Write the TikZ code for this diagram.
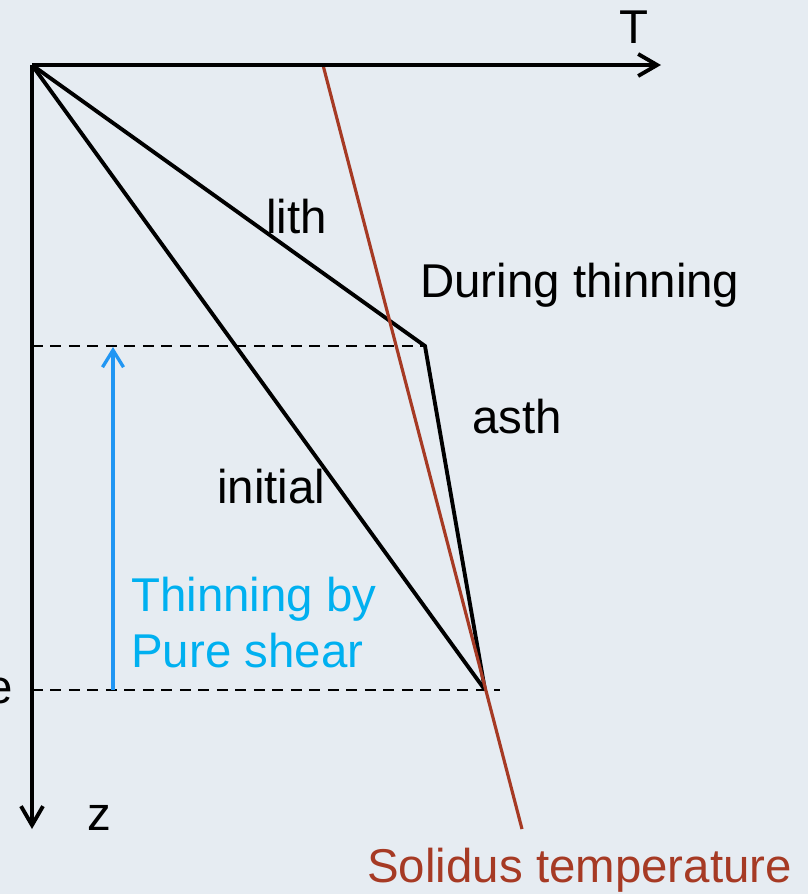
\documentclass[tikz,border=0pt]{standalone}
\usepackage{fontspec}
\setmainfont{Liberation Sans}
\usetikzlibrary{arrows.meta}
\definecolor{slidebg}{RGB}{230,236,242}
\definecolor{solidred}{RGB}{166,58,36}
\definecolor{shearblue}{RGB}{0,176,240}
\definecolor{arrowblue}{RGB}{33,150,243}

\begin{document}
\begin{tikzpicture}[x=0.02cm, y=-0.02cm,
  lbl/.style={anchor=base west, inner sep=0pt, font=\fontsize{27}{32}\selectfont},
  axis/.style={line width=2.2pt, -{Straight Barb[length=0.38cm, width=0.44cm, line width=2.2pt]}},
  geotherm/.style={line width=2.2pt, line join=miter},
  level/.style={line width=1.6pt, dash pattern=on 0.22cm off 0.15cm}]
  % page and background
  \fill[slidebg] (0,0) rectangle (808,894);
  \useasboundingbox (0,0) rectangle (808,894);
  % points
  \coordinate (O) at (32,65);
  \coordinate (Tend) at (661,65);
  \coordinate (zend) at (32,829);
  \coordinate (kink) at (425,346);
  \coordinate (base) at (485,690);
  \coordinate (kinkL) at (32,346);
  \coordinate (baseL) at (32,690);
  \coordinate (baseR) at (500,690);
  \coordinate (solTop) at (323,65);
  \coordinate (solBot) at (522,829);
  \coordinate (shearFoot) at (113,690);
  \coordinate (shearHead) at (113,347);
  % levels
  \draw[level] (kinkL) -- (kink);
  \draw[level] (baseL) -- (baseR);
  % geotherms
  \draw[geotherm] (O) -- (kink) -- (base);
  \draw[geotherm] (O) -- (base);
  % solidus
  \draw[solidred, line width=1.8pt] (solTop) -- (solBot);
  % axes
  \draw[axis] (O) -- (Tend);
  \draw[axis] (O) -- (zend);
  % thinning arrow
  \draw[arrowblue, line width=1.9pt, -{Straight Barb[length=0.34cm, width=0.42cm, line width=1.9pt]}] (shearFoot) -- (shearHead);
  % labels
  \node[lbl] (Tlbl) at (619,43) {T};
  \node[lbl] (zlbl) at (87,830) {z};
  \node[lbl] (lith) at (266,233) {lith};
  \node[lbl] (during) at (420,297) {During thinning};
  \node[lbl] (asth) at (472,433) {asth};
  \node[lbl] (initial) at (217,503) {initial};
  \node[lbl, text=shearblue] (shear1) at (131,611) {Thinning by};
  \node[lbl, text=shearblue] (shear2) at (131,667) {Pure shear};
  \node[lbl, text=solidred] (solidus) at (367,882) {Solidus temperature};
  \node[lbl, anchor=base east] (cut) at (13,703) {e};
\end{tikzpicture}
\end{document}
